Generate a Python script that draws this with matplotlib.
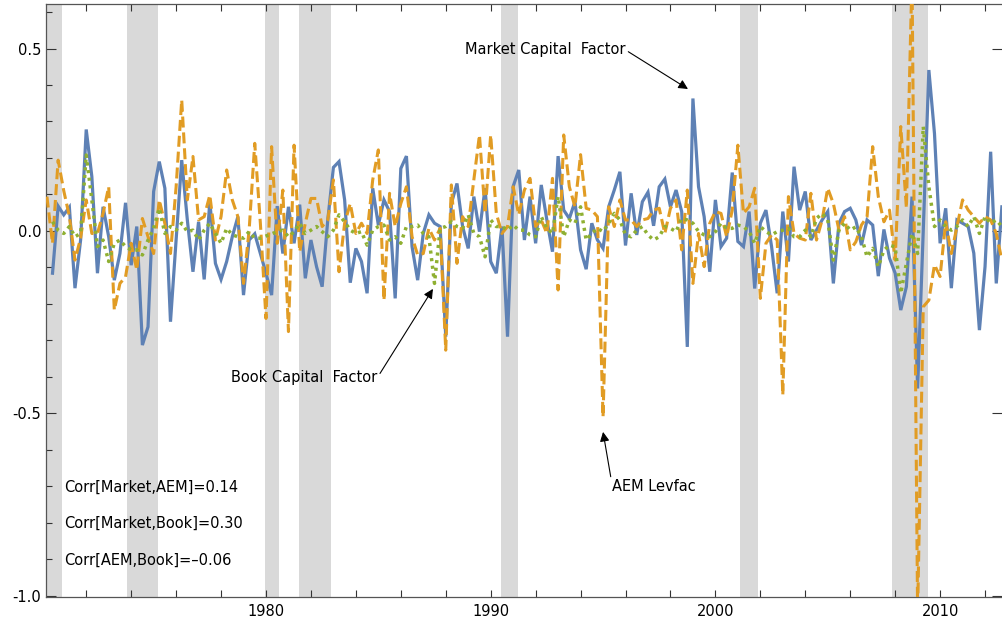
import numpy as np
import matplotlib
matplotlib.use("Agg")
import matplotlib.pyplot as plt

# quarterly series
market_start = 1970.5
market = [
    -0.116, 0.068, 0.044, 0.065, -0.157, -0.025, 0.278, 0.149, -0.116, 0.066,
    -0.016, -0.135, -0.062, 0.077, -0.094, 0.012, -0.313, -0.263, 0.108, 0.190,
    0.117, -0.249, -0.025, 0.194, 0.030, -0.112, 0.025, -0.133, 0.080, -0.089,
    -0.133, -0.084, -0.016, 0.039, -0.176, -0.025, -0.008, -0.062, -0.116, -0.176,
    0.068, -0.062, 0.066, -0.034, 0.072, -0.130, -0.025, -0.098, -0.153, 0.030,
    0.174, 0.190, 0.085, -0.142, -0.048, -0.084, -0.171, 0.117, 0.016, 0.085,
    0.053, -0.185, 0.171, 0.205, -0.043, -0.135, -0.007, 0.044, 0.021, 0.012,
    -0.290, 0.075, 0.130, 0.012, -0.048, 0.094, -0.002, 0.117, -0.084, -0.116,
    0.012, -0.290, 0.122, 0.167, -0.025, 0.094, -0.034, 0.126, 0.030, -0.057,
    0.205, 0.057, 0.034, 0.080, -0.052, -0.105, 0.021, -0.025, -0.048, 0.066,
    0.112, 0.162, -0.040, 0.103, -0.011, 0.080, 0.106, 0.014, 0.121, 0.142,
    0.066, 0.112, 0.053, -0.318, 0.363, 0.121, 0.039, -0.112, 0.085, -0.043,
    -0.020, 0.160, -0.029, -0.043, 0.053, -0.158, 0.021, 0.057, -0.043, -0.171,
    0.053, -0.084, 0.176, 0.057, 0.108, -0.025, 0.002, 0.030, 0.053, -0.144,
    0.021, 0.053, 0.062, 0.030, -0.039, 0.030, 0.016, -0.124, 0.004, -0.075,
    -0.116, -0.217, -0.153, 0.094, -0.432, 0.000, 0.441, 0.267, -0.034, 0.062,
    -0.157, 0.030, 0.021, 0.012, -0.061, -0.272, -0.098, 0.217, -0.144, 0.066,
]

aem_start = 1970.25
aem = [
    0.094, -0.034, 0.194, 0.110, 0.040, -0.080, -0.020, 0.085, -0.007, -0.007,
    0.048, 0.121, -0.217, -0.144, -0.126, -0.034, -0.107, 0.034, -0.016, -0.062,
    0.085, 0.020, -0.062, 0.120, 0.359, 0.085, 0.204, 0.030, 0.039, 0.098,
    -0.025, 0.039, 0.167, 0.085, 0.039, -0.144, 0.002, 0.240, 0.021, -0.240,
    0.231, -0.034, 0.112, -0.276, 0.235, -0.057, 0.021, 0.089, 0.089, 0.012,
    0.030, 0.140, -0.112, 0.021, 0.075, -0.007, 0.021, -0.007, 0.140, 0.222,
    -0.190, 0.103, 0.012, 0.075, 0.121, -0.016, -0.066, -0.062, 0.007, -0.025,
    0.007, -0.327, 0.126, -0.089, 0.039, 0.012, 0.140, 0.263, 0.048, 0.263,
    0.048, -0.007, 0.012, 0.121, 0.044, 0.112, 0.144, 0.012, 0.030, -0.007,
    0.144, -0.162, 0.263, 0.121, 0.066, 0.209, 0.062, 0.057, 0.039, -0.510,
    0.066, 0.012, 0.085, 0.030, 0.030, 0.012, 0.030, 0.034, 0.057, 0.062,
    -0.007, 0.062, 0.085, -0.052, 0.112, -0.144, -0.007, -0.098, 0.021, 0.053,
    0.048, -0.016, 0.057, 0.235, 0.048, 0.066, 0.117, -0.185, -0.034, -0.011,
    -0.025, -0.450, 0.094, -0.007, -0.020, -0.025, 0.103, -0.025, 0.030, 0.117,
    0.075, 0.002, 0.039, -0.052, -0.030, 0.016, 0.039, 0.231, 0.094, 0.025,
    0.057, -0.080, 0.286, 0.063, 0.700, -1.050, -0.208, -0.190, -0.093, -0.125,
    0.025, -0.062, 0.012, 0.085, 0.057, 0.039, 0.021, 0.039, 0.030, -0.007, -0.080,
]

book_start = 1970.5
book = [
    0.025, 0.002, -0.007, 0.012, -0.016, -0.007, 0.208, 0.085, -0.043, -0.025,
    -0.084, -0.034, -0.025, -0.043, -0.052, -0.052, -0.066, -0.025, 0.007, 0.062,
    -0.007, 0.012, 0.002, 0.021, -0.002, 0.002, -0.025, 0.002, 0.021, -0.007,
    -0.034, 0.007, -0.011, -0.016, -0.020, -0.002, -0.020, -0.020, -0.014, -0.008,
    -0.002, 0.002, -0.016, -0.002, 0.021, -0.007, 0.002, 0.012, -0.002, -0.016,
    0.002, 0.044, 0.025, 0.002, -0.007, -0.002, -0.039, 0.002, 0.012, 0.016,
    -0.025, -0.016, -0.034, 0.012, 0.012, 0.016, -0.007, -0.016, -0.144, 0.007,
    0.012, 0.025, 0.012, 0.007, 0.044, -0.007, -0.016, -0.071, 0.030, 0.012,
    0.012, 0.002, 0.016, 0.002, 0.002, -0.011, -0.016, 0.039, 0.007, -0.007,
    0.094, -0.016, 0.030, 0.021, 0.066, -0.025, -0.007, 0.007, -0.002, 0.021,
    0.048, 0.030, -0.011, -0.016, 0.002, 0.012, -0.011, -0.025, -0.016, 0.012,
    0.007, -0.002, 0.034, 0.030, 0.021, -0.002, -0.011, -0.016, -0.002, 0.021,
    0.007, 0.007, 0.016, 0.012, -0.002, -0.034, 0.012, -0.002, -0.011, -0.002,
    0.002, 0.007, -0.016, -0.016, 0.002, -0.016, 0.034, 0.048, 0.030, -0.080,
    0.002, 0.021, 0.002, 0.011, -0.016, -0.071, -0.048, -0.098, -0.053, -0.039,
    -0.044, -0.171, -0.089, -0.007, -0.062, 0.286, 0.121, 0.012, 0.030, 0.012,
    0.002, 0.012, 0.030, 0.012, 0.039, -0.007, 0.039, 0.021, 0.030, 0.012,
]

# NBER recessions (start, end)
recessions = [(1969.9, 1970.92), (1973.8, 1975.19), (1979.97, 1980.58),
              (1981.48, 1982.88), (1990.47, 1991.2), (2001.1, 2001.88),
              (2007.88, 2009.45)]

corr_labels = ["Corr[Market,AEM]=0.14",
               "Corr[Market,Book]=0.30",
               "Corr[AEM,Book]=\u20130.06"]

blue = "#5e81b5"
orange = "#e19c24"
green = "#8fb032"
fs = 10.5


def quarters(start, n):
    return start + 0.25 * np.arange(n)


fig = plt.figure(figsize=(10.02, 6.24), dpi=100)
ax = fig.add_axes([46 / 1002, 27 / 624, 956 / 1002, 593 / 624])

for a, b in recessions:
    ax.axvspan(a, b, color="#d9d9d9", lw=0, zorder=0)

ax.plot(quarters(market_start, len(market)), market, color=blue, lw=2.3,
        solid_joinstyle="miter", zorder=2)
ax.plot(quarters(aem_start, len(aem)), aem, color=orange, lw=2.2,
        dashes=(3.6, 1.6), zorder=3)
ax.plot(quarters(book_start, len(book)), book, color=green, lw=2.5,
        dashes=(0.9, 1.3), zorder=4)

ax.set_xlim(1970.21, 2012.755)
ax.set_ylim(-1.0036, 0.622)

xt = np.arange(1972, 2013, 2)
ax.set_xticks(xt)
ax.set_xticklabels([str(y) if y % 10 == 0 else "" for y in xt], fontsize=fs)
ax.set_yticks([-1.0, -0.5, 0.0, 0.5])
ax.set_yticklabels(["-1.0", "-0.5", "0.0", "0.5"], fontsize=fs)
ax.set_yticks(np.arange(-1.0, 0.61, 0.1), minor=True)
ax.tick_params(axis="both", which="both", direction="in", top=True,
               right=True, color="#333333", width=0.8)
ax.tick_params(axis="y", which="major", length=7)
ax.tick_params(axis="y", which="minor", length=4, right=False)
ax.tick_params(axis="x", which="major", length=5, pad=5)
for s in ax.spines.values():
    s.set_color("#555555")
    s.set_linewidth(0.9)
ax.spines["right"].set_visible(False)

arrow = dict(arrowstyle="-|>", color="black", lw=0.8, mutation_scale=14,
             shrinkA=0, shrinkB=0)
ax.annotate("Market Capital  Factor", xy=(1998.78, 0.389),
            xytext=(1996.0, 0.496), ha="right", va="center", fontsize=fs,
            arrowprops=dict(arrow, relpos=(1.0, 0.5)))
ax.annotate("Book Capital  Factor", xy=(1987.43, -0.159),
            xytext=(1984.95, -0.403), ha="right", va="center", fontsize=fs,
            arrowprops=dict(arrow, relpos=(1.0, 0.5)))
ax.annotate("AEM Levfac", xy=(1995.0, -0.551),
            xytext=(1995.38, -0.702), ha="left", va="center", fontsize=fs,
            arrowprops=dict(arrow, relpos=(0.0, 0.85)))

for i, txt in enumerate(corr_labels):
    ax.text(1971.0, -0.702 - 0.1 * i, txt, ha="left", va="center",
            fontsize=fs)

fig.savefig("out.png", dpi=100)
